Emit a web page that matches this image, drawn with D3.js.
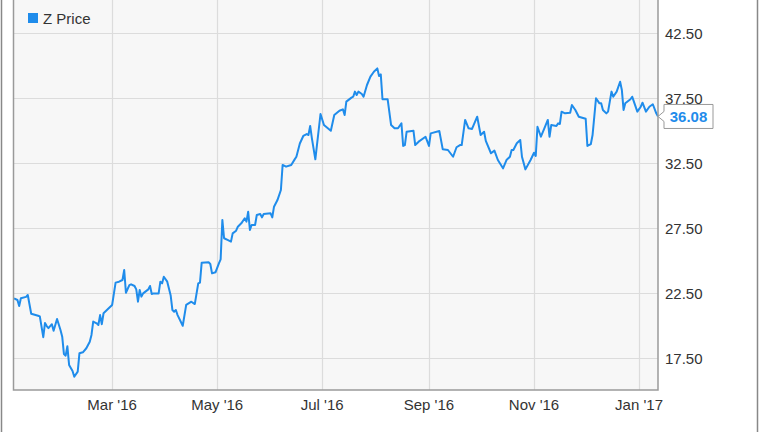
<!DOCTYPE html>
<html><head><meta charset="utf-8">
<script src="https://cdn.jsdelivr.net/npm/d3@7"></script>
<style>html,body{margin:0;padding:0;background:#fff;}svg{display:block;font-family:"Liberation Sans",Arial,sans-serif;}</style>
</head><body>
<svg id="chart" width="764" height="432"></svg>
<script>
const seriesName = "Z Price";
const dates = ["2016-01-04","2016-01-06","2016-01-07","2016-01-08","2016-01-11","2016-01-12","2016-01-14","2016-01-18","2016-01-19","2016-01-21","2016-01-22","2016-01-23","2016-01-24","2016-01-26","2016-01-27","2016-01-29","2016-01-31",
"2016-02-01","2016-02-02","2016-02-03","2016-02-04","2016-02-05","2016-02-07","2016-02-08","2016-02-10","2016-02-11","2016-02-13","2016-02-15","2016-02-17","2016-02-18","2016-02-19","2016-02-21","2016-02-22","2016-02-23","2016-02-24","2016-02-25","2016-02-28",
"2016-03-01","2016-03-03","2016-03-05","2016-03-07","2016-03-08","2016-03-09","2016-03-11","2016-03-12","2016-03-14","2016-03-15","2016-03-16","2016-03-17","2016-03-18","2016-03-19","2016-03-22","2016-03-23","2016-03-24","2016-03-25","2016-03-28","2016-03-29","2016-03-30","2016-03-31",
"2016-04-02","2016-04-04","2016-04-05","2016-04-06","2016-04-07","2016-04-08","2016-04-11","2016-04-13","2016-04-16","2016-04-18","2016-04-20","2016-04-21","2016-04-22","2016-04-26","2016-04-27","2016-04-28","2016-04-30",
"2016-05-02","2016-05-03","2016-05-04","2016-05-05","2016-05-07","2016-05-09","2016-05-10","2016-05-12","2016-05-13","2016-05-15","2016-05-17","2016-05-18","2016-05-19","2016-05-20","2016-05-21","2016-05-23","2016-05-24","2016-05-26","2016-05-27","2016-05-28",
"2016-06-01","2016-06-02","2016-06-03","2016-06-05","2016-06-07","2016-06-08","2016-06-10","2016-06-13","2016-06-15","2016-06-16","2016-06-18","2016-06-20","2016-06-22","2016-06-23","2016-06-24","2016-06-25","2016-06-27","2016-06-30",
"2016-07-02","2016-07-06","2016-07-08","2016-07-11","2016-07-13","2016-07-14","2016-07-15","2016-07-18","2016-07-19","2016-07-20","2016-07-21","2016-07-22","2016-07-24","2016-07-25","2016-07-27","2016-07-29","2016-07-31",
"2016-08-02","2016-08-03","2016-08-04","2016-08-05","2016-08-08","2016-08-10","2016-08-12","2016-08-14","2016-08-16","2016-08-17","2016-08-18","2016-08-19","2016-08-23","2016-08-24","2016-08-26","2016-08-30",
"2016-09-01","2016-09-02","2016-09-07","2016-09-09","2016-09-12","2016-09-15","2016-09-17","2016-09-19","2016-09-20","2016-09-22","2016-09-24","2016-09-26","2016-09-29",
"2016-10-01","2016-10-03","2016-10-04","2016-10-07","2016-10-09","2016-10-11","2016-10-14","2016-10-16","2016-10-18","2016-10-19","2016-10-20","2016-10-22","2016-10-24","2016-10-25","2016-10-27","2016-10-30",
"2016-11-01","2016-11-02","2016-11-03","2016-11-05","2016-11-07","2016-11-09","2016-11-10","2016-11-11","2016-11-14","2016-11-15","2016-11-16","2016-11-17","2016-11-19","2016-11-22","2016-11-23","2016-11-25","2016-11-27","2016-11-30",
"2016-12-01","2016-12-02","2016-12-04","2016-12-05","2016-12-07","2016-12-09","2016-12-10","2016-12-11","2016-12-13","2016-12-14","2016-12-16","2016-12-17","2016-12-19","2016-12-21","2016-12-22","2016-12-23","2016-12-24","2016-12-27","2016-12-28","2016-12-31",
"2017-01-02","2017-01-03","2017-01-05","2017-01-07","2017-01-09","2017-01-11","2017-01-12"];
const prices = [22.09,21.96,21.5,22.1,22.2,22.35,20.9,20.75,20.7,19.1,20.2,19.96,19.8,20.1,19.6,20.5,19.65,
19.14,17.8,17.68,18.4,16.96,16.5,16.06,16.45,17.86,17.94,18.25,18.75,19.27,20.3,20.17,20.04,20.8,20.1,20.94,21.32,
21.58,23.3,23.37,23.5,24.27,22.52,23.1,23.17,23.04,22.78,21.83,22.73,22.22,22.47,22.78,23.04,22.42,22.47,22.47,23.37,23.24,23.75,
23.37,22.3,21.19,21.06,21.19,20.8,19.98,21.58,21.83,21.65,23.24,23.3,24.83,24.86,24.73,24.01,24.09,
24.78,25.09,28.12,26.71,26.58,26.45,27.09,27.29,27.6,27.86,28.25,27.99,28.75,27.35,27.73,27.73,28.5,28.58,28.32,28.58,
28.63,28.32,29.14,29.65,30.42,32.35,32.22,32.35,32.78,32.98,34.0,34.58,34.73,34.65,35.35,34.4,32.78,36.27,
35.42,34.98,36.19,36.52,36.63,36.19,37.22,37.53,37.6,37.99,37.73,37.99,37.81,37.6,38.5,39.14,39.52,
39.78,39.19,39.32,37.4,37.4,35.42,35.17,35.17,35.55,33.81,33.88,34.9,34.98,33.88,34.14,34.52,
33.81,34.78,34.96,33.55,33.5,32.98,33.71,33.88,33.88,35.81,35.17,35.12,36.06,
34.65,34.9,34.2,33.25,33.45,32.73,32.09,32.73,32.98,33.5,33.5,34.02,34.27,32.98,32.01,32.73,
33.29,33.04,35.29,34.52,35.17,35.81,34.52,35.42,35.35,35.55,35.5,36.45,36.32,36.37,36.96,36.58,36.06,35.94,
35.9,33.81,33.96,34.65,37.48,37.09,37.09,36.58,36.32,36.45,37.99,37.6,37.99,38.75,38.12,36.58,37.09,37.4,37.6,36.45,
36.83,37.14,36.45,36.83,37.02,36.32,36.08];
const yTicks = [17.5, 22.5, 27.5, 32.5, 37.5, 42.5];
const xTicks = ["2016-03-01","2016-05-01","2016-07-01","2016-09-01","2016-11-01","2017-01-01"];
const xDomain = ["2016-01-04","2017-01-12"];

const parse = d3.timeParse("%Y-%m-%d");
const data = dates.map((d,i)=>({date: parse(d), value: prices[i]}));
const color = "#1f8ceb";
const svg = d3.select("#chart");
const L = 13.5, R = 658, T = 0, B = 390;

const x = d3.scaleTime().domain(xDomain.map(parse)).range([14, 658]);
const y = d3.scaleLinear().domain([17.5, 42.5]).range([358, 33]);

// outer frame lines
svg.append("line").attr("x1",1.5).attr("x2",1.5).attr("y1",0).attr("y2",432).attr("stroke","#888").attr("stroke-width",1.5);
svg.append("line").attr("x1",757.5).attr("x2",757.5).attr("y1",0).attr("y2",432).attr("stroke","#888").attr("stroke-width",1.5);

// plot background
svg.append("rect").attr("x",L).attr("y",T).attr("width",R-L).attr("height",B-T).attr("fill","#f7f7f7");

// gridlines
svg.append("g").selectAll("line").data(yTicks).join("line")
  .attr("x1",L).attr("x2",R).attr("y1",d=>Math.round(y(d))+0.5).attr("y2",d=>Math.round(y(d))+0.5)
  .attr("stroke","#dcdcdc").attr("stroke-width",1.2);
svg.append("g").selectAll("line").data(xTicks).join("line")
  .attr("x1",d=>Math.round(x(parse(d)))+0.5).attr("x2",d=>Math.round(x(parse(d)))+0.5).attr("y1",T).attr("y2",B)
  .attr("stroke","#dcdcdc").attr("stroke-width",1.2);

// legend
svg.append("rect").attr("x",28).attr("y",13).attr("width",10).attr("height",10).attr("fill",color);
svg.append("text").attr("x",43).attr("y",23.5).attr("font-size",15).attr("fill","#333").text(seriesName);

// line
svg.append("path").datum(data)
  .attr("d", d3.line().x(d=>x(d.date)).y(d=>y(d.value)))
  .attr("fill","none").attr("stroke",color).attr("stroke-width",2).attr("stroke-linejoin","round");

// plot border (left, bottom, right)
svg.append("path").attr("d",`M${L},${T}V${B}H${R}V${T}`).attr("fill","none").attr("stroke","#9a9a9a").attr("stroke-width",1.5);

// y axis labels
const fmt = d3.format(".2f");
svg.append("g").selectAll("text").data(yTicks).join("text")
  .attr("x",665).attr("y",d=>y(d)+5.5).attr("font-size",15).attr("fill","#333").text(d=>fmt(d));

// x axis labels
const xfmt = d3.timeFormat("%b '%y");
svg.append("g").selectAll("text").data(xTicks).join("text")
  .attr("x",d=>x(parse(d))).attr("y",410).attr("text-anchor","middle").attr("font-size",15).attr("fill","#333")
  .text(d=>xfmt(parse(d)));

// end value label
const last = data[data.length-1];
const ly = y(last.value), lx = x(last.date);
const bx = 664, bw = 49, bh = 24;
svg.append("path")
  .attr("d",`M${lx},${ly} L${bx},${ly-5} V${ly-12} H${bx+bw} V${ly+12} H${bx} V${ly+5} Z`)
  .attr("fill","#fff").attr("stroke","#999").attr("stroke-width",1);
svg.append("text").attr("x",bx+bw/2).attr("y",ly+5.5).attr("text-anchor","middle")
  .attr("font-size",15).attr("font-weight","bold").attr("fill",color).text(fmt(last.value));
</script>
</body></html>
